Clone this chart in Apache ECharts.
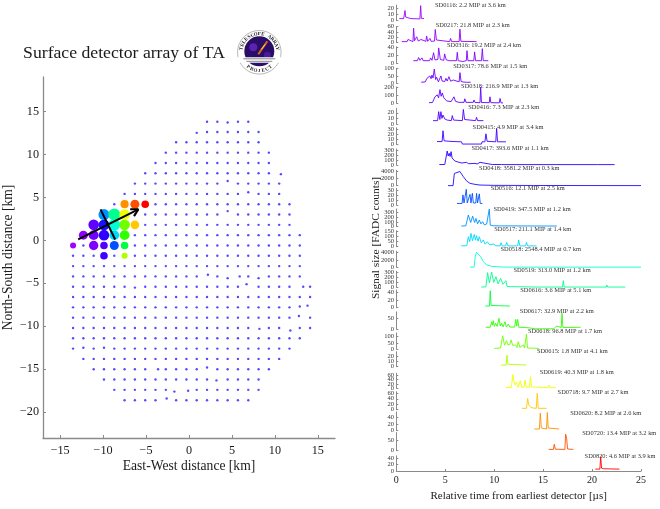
<!DOCTYPE html>
<html><head><meta charset="utf-8">
<style>html,body{margin:0;padding:0;background:#fff}#c{width:660px;height:509px}</style>
<script src="https://cdn.jsdelivr.net/npm/echarts@6/dist/echarts.min.js"></script>
</head><body><div id="c"></div>
<script>
// ---------- DATA ----------
const titleText = 'Surface detector array of TA';
const xTicksKm = [-15,-10,-5,0,5,10,15];
const yTicksKm = [-20,-15,-10,-5,0,5,10,15];
const timeTicks = [0,5,10,15,20,25];

// surface detector positions by row: [north-south km, [east-west km ...]]
const arrayRows = [
 [13.8,[2.1,3.3,5.7,6.9]],
 [12.6,[2.1,3.3,4.5,5.7,6.9,8.1]],
 [11.4,[-1.5,-0.3,0.9,2.1,3.3,4.5,5.7,6.9,8.1]],
 [10.2,[-2.7,-1.5,-0.3,0.9,2.1,3.3,4.5,5.7,6.9,8.1,9.3]],
 [9.0,[-3.9,-2.7,-1.5,-0.3,0.9,2.1,3.3,4.5,5.7,6.9,8.1,9.3]],
 [7.8,[-5.1,-3.9,-2.7,-1.5,-0.3,0.9,2.1,3.3,4.5,5.7,6.9,8.1,9.3]],
 [6.6,[-6.3,-5.1,-3.9,-2.7,-1.5,-0.3,0.9,2.1,3.3,5.7,6.9,8.1,9.3,10.5]],
 [5.4,[-7.5,-6.3,-5.1,-3.9,-2.7,-1.5,-0.3,0.9,2.1,3.3,4.5,5.7,8.1,9.3,10.5]],
 [4.2,[-8.7,-7.5,-6.3,-5.1,-3.9,-2.7,-1.5,-0.3,0.9,2.1,3.3,4.5,5.7,6.9,8.1,9.3,10.5,11.7]],
 [3.0,[-9.9,-8.7,-7.5,-6.3,-5.1,-3.9,-2.7,-1.5,-0.3,0.9,2.1,3.3,5.7,6.9,8.1,9.3,10.5,11.7]],
 [1.8,[-11.1,-9.9,-8.7,-7.5,-6.3,-5.1,-3.9,-2.7,-1.5,-0.3,0.9,2.1,3.3,4.5,5.7,6.9,8.1,9.3,10.5,11.7]],
 [0.6,[-12.3,-11.1,-9.9,-8.7,-7.5,-6.3,-5.1,-3.9,-2.7,-1.5,-0.3,0.9,2.1,3.3,4.5,5.7,6.9,8.1,9.3,10.5,11.7,12.9]],
 [-0.6,[-13.5,-12.3,-11.1,-9.9,-8.7,-7.5,-6.3,-5.1,-3.9,-2.7,-1.5,-0.3,0.9,2.1,3.3,4.5,5.7,6.9,8.1,9.3,10.5,11.7,12.9]],
 [-1.8,[-13.5,-12.3,-11.1,-9.9,-8.7,-7.5,-6.3,-5.1,-3.9,-2.7,-1.5,-0.3,0.9,2.1,3.3,4.5,5.7,6.9,8.1,9.3,10.5,11.7,12.9]],
 [-3.0,[-13.5,-12.3,-11.1,-9.9,-8.7,-7.5,-6.3,-5.1,-3.9,-2.7,-1.5,-0.3,0.9,2.1,3.3,4.5,5.7,6.9,8.1,9.3,10.5,11.7,12.9]],
 [-4.2,[-13.5,-12.3,-11.1,-9.9,-8.7,-7.5,-6.3,-5.1,-3.9,-2.7,-1.5,-0.3,0.9,3.3,6.9,9.3,10.5,11.7,12.9]],
 [-5.4,[-13.5,-12.3,-11.1,-9.9,-8.7,-7.5,-5.1,-3.9,-2.7,-1.5,-0.3,0.9,2.1,3.3,4.5,5.7,8.1,9.3,10.5,11.7,14.1]],
 [-6.6,[-13.5,-12.3,-11.1,-9.9,-8.7,-7.5,-6.3,-5.1,-3.9,-2.7,-1.5,-0.3,0.9,2.1,3.3,4.5,5.7,6.9,8.1,9.3,10.5,11.7,12.9,14.1]],
 [-7.8,[-13.5,-12.3,-11.1,-9.9,-8.7,-7.5,-6.3,-5.1,-3.9,-2.7,-1.5,-0.3,0.9,2.1,3.3,4.5,5.7,6.9,8.1,9.3,10.5,11.7]],
 [-9.0,[-13.5,-12.3,-11.1,-9.9,-8.7,-7.5,-6.3,-5.1,-3.9,-2.7,-1.5,-0.3,0.9,2.1,3.3,4.5,5.7,6.9,8.1,9.3,10.5,11.7,14.1]],
 [-10.2,[-13.5,-12.3,-11.1,-9.9,-8.7,-7.5,-6.3,-5.1,-3.9,-2.7,-1.5,-0.3,0.9,2.1,3.3,4.5,5.7,6.9,9.3,10.5,12.9,14.1]],
 [-11.4,[-13.5,-12.3,-11.1,-9.9,-8.7,-7.5,-6.3,-5.1,-3.9,-2.7,-1.5,-0.3,0.9,2.1,3.3,4.5,5.7,6.9,8.1,9.3,10.5,11.7,12.9]],
 [-12.6,[-13.5,-11.1,-8.7,-7.5,-6.3,-5.1,-3.9,-2.7,-1.5,-0.3,0.9,2.1,3.3,4.5,5.7,6.9,8.1,9.3,10.5,11.7]],
 [-13.8,[-12.3,-11.1,-9.9,-8.7,-7.5,-6.3,-5.1,-3.9,-2.7,-1.5,-0.3,0.9,2.1,3.3,4.5,5.7,6.9,8.1,9.3,10.5]],
 [-15.0,[-11.1,-9.9,-8.7,-7.5,-6.3,-5.1,-2.7,-1.5,-0.3,0.9,3.3,4.5,5.7,6.9,8.1,9.3]],
 [-16.2,[-9.9,-8.7,-7.5,-6.3,-5.1,-3.9,-2.7,-1.5,-0.3,0.9,2.1,4.5,5.7,6.9,8.1]],
 [-17.4,[-8.7,-7.5,-6.3,-5.1,-3.9,-2.7,0.9,2.1,3.3,4.5,5.7,6.9,8.1]],
 [-18.6,[-7.5,-6.3,-5.1,-3.9,-1.5,-0.3,0.9,2.1,3.3,4.5,5.7,6.9]]
];
const offGridDetectors = [[4.5,13.7],[0.9,12.5],[10.7,7.7],[4.5,6.9],[6.9,5.6],[4.5,3.4],[2.2,-4.0],[4.5,-4.4],[5.9,-4.2],[8.1,-4.4],[-6.3,-5.5],[6.7,-5.1],[13.3,-5.4],[12.9,-7.7],[13.8,-7.6],[12.8,-8.8],[8.2,-10.3],[11.8,-10.5],[-12.3,-12.5],[-9.9,-12.5],[-3.6,-15.0],[2.1,-14.8],[3.2,-16.3],[-1.7,-17.6],[-0.1,-17.5],[-2.6,-18.4]];

// shower axis
const showerDirection = [[-12.9,0.1],[-5.9,3.6]];
const arrowHead = [[-6.85,3.6],[-5.9,3.6],[-6.4,2.8]];
const showerFront = [[-10.3,3.6],[-8.6,0.1]];

// hit detectors
const detectorNames = ['SD0116','SD0217','SD0316','SD0317','SD0318','SD0416','SD0415','SD0417','SD0418','SD0516','SD0419','SD0517','SD0518','SD0519','SD0616','SD0617','SD0618','SD0615','SD0619','SD0718','SD0620','SD0720','SD0820'];
const detectorMip = [2.2,21.8,19.2,78.6,216.9,7.3,4.9,393.6,3581.2,12.1,347.5,211.1,2548.4,313.0,3.6,32.9,96.8,1.8,40.3,9.7,8.2,13.4,4.6];
const detectorKm = [3.6,2.3,2.4,1.5,1.3,2.3,3.4,1.1,0.3,2.5,1.2,1.4,0.7,1.2,5.1,2.2,1.7,4.1,1.8,2.7,2.6,3.2,3.9];
const detectorX = [-13.5,-12.3,-11.1,-11.1,-11.1,-9.9,-9.9,-9.9,-9.9,-8.7,-9.9,-8.7,-8.7,-8.7,-7.5,-7.5,-7.5,-7.5,-7.5,-6.3,-7.5,-6.3,-5.1];
const detectorY = [-0.6,0.6,-0.6,0.6,1.8,-0.6,-1.8,0.6,1.8,-0.6,3.0,0.6,1.8,3.0,-0.6,0.6,1.8,-1.8,3.0,1.8,4.2,4.2,4.2];
const detectorTicks = [[0,10,20],[0,20,40,60],[0,20,40],[0,50,100],[0,100,200],[0,10,20],[0,10,20,30],[0,100,200,300],[0,2000,4000],[0,10,20,30],[0,100,200,300],[0,50,100,150],[0,2000,4000],[0,100,200,300],[0,20,40],[0,50],[0,50,100],[0,10,20],[0,20,40,60],[0,20,40,60],[0,20,40],[0,50],[0,20,40]];
const detectorMax = [26,60,42,100,210,28,33,320,4400,33,380,160,4400,330,47,80,130,30,68,66,56,85,48];

// FADC traces: [time us, counts]
const sd0116 = [[0.31,3.5],[0.75,3.5],[0.82,5],[0.89,17],[0.96,6],[1.05,4],[1.5,3.5],[2.41,3],[2.49,25],[2.56,4],[2.83,3.5]];
const sd0217 = [[0.55,4],[1.1,4],[1.19,12],[1.3,5],[1.7,4],[1.77,54],[1.86,7],[2.0,6],[2.08,22],[2.25,6],[2.52,12],[2.65,5],[3.02,5],[3.1,25],[3.2,5],[3.44,16],[3.55,5],[3.9,6],[3.98,49],[4.1,10],[4.3,5],[5.45,4],[5.55,16],[5.65,4],[6.42,4],[6.5,50],[6.6,5],[8.2,4]];
const sd0316 = [[1.74,7],[2.15,7],[2.28,15],[2.42,8],[2.62,14],[2.75,7],[3.4,7],[3.5,14],[3.65,8],[3.81,27],[3.95,9],[4.25,10],[4.33,39],[4.5,10],[4.85,8],[4.94,24],[5.1,9],[5.45,7],[5.55,10],[5.7,7],[6.15,7],[6.23,28],[6.32,7],[6.8,5],[7.15,7],[7.22,32],[7.32,7],[7.92,7],[8.0,29],[8.1,7],[8.7,7],[8.79,37],[8.88,7],[9.4,7]];
const sd0317 = [[2.55,7],[2.95,9],[3.13,33],[3.25,22],[3.44,49],[3.55,30],[3.64,55],[3.75,35],[3.88,95],[4.02,25],[4.12,40],[4.3,10],[4.56,49],[4.68,15],[4.8,27],[4.95,12],[5.07,33],[5.2,15],[5.38,44],[5.55,14],[5.82,22],[6.0,9],[6.42,10],[6.5,71],[6.62,12],[6.9,8],[7.0,15],[7.15,7],[7.6,7]];
const sd0318 = [[3.34,8],[3.7,10],[3.95,83],[4.05,60],[4.19,108],[4.32,70],[4.46,175],[4.58,90],[4.7,133],[4.85,70],[4.97,62],[5.15,30],[5.31,29],[5.6,22],[5.8,30],[5.89,83],[6.05,25],[6.4,12],[6.92,12],[7.0,58],[7.12,12],[7.86,12],[7.94,42],[8.05,10],[8.55,8],[8.62,208],[8.7,10],[9.5,8],[9.57,83],[9.66,8],[10.52,6],[10.6,62],[10.7,6],[10.9,5]];
const sd0416 = [[3.75,6],[4.22,6],[4.33,22],[4.45,8],[4.56,22],[4.66,10],[4.77,16],[4.95,9],[5.2,7],[5.62,6],[5.72,15],[5.85,7],[6.75,6],[6.85,26],[6.98,8],[8.1,6],[8.2,12],[8.3,6],[8.9,6]];
const sd0415 = [[4.16,5.5],[4.68,5.5],[4.77,27],[4.88,7],[5.4,6],[6.0,5.5],[6.66,5],[6.75,0.5],[8.7,0.5],[8.76,5],[9.05,5],[9.16,21],[9.28,6],[10.16,5],[10.25,32],[10.34,5],[11.2,5]];
const sd0417 = [[4.4,10],[4.95,10],[5.2,280],[5.3,180],[5.4,233],[5.5,170],[5.6,267],[5.7,140],[5.82,167],[5.98,80],[6.16,113],[6.3,60],[6.5,100],[6.7,40],[7.18,53],[7.4,25],[8.04,33],[8.25,20],[8.55,53],[8.7,15],[9.8,10],[10.75,10],[10.86,33],[11.0,8],[20.3,8],[20.4,33],[20.55,8],[22.3,8]];
const sd0418 = [[5.28,20],[5.8,30],[5.93,3500],[6.0,4000],[6.5,4050],[6.85,2570],[7.19,1330],[7.53,670],[8.04,380],[8.55,190],[9.9,100],[14,60],[25,30]];
const sd0516 = [[6.2,3],[6.72,3],[6.81,20],[6.92,4],[7.07,4],[7.15,31],[7.25,4],[7.45,4],[7.53,21],[7.63,4],[7.7,4],[7.77,23],[7.87,4],[8.12,4],[8.2,23],[8.3,4],[8.4,4],[8.48,22],[8.58,3],[8.79,3]];
const sd0419 = [[6.64,15],[7.1,18],[7.36,250],[7.6,90],[7.8,228],[8.0,90],[8.14,178],[8.3,60],[8.48,143],[8.65,60],[8.82,107],[9.0,40],[9.23,57],[9.42,35],[9.5,378],[9.6,35],[9.9,20],[10.5,18],[10.6,50],[10.72,18],[15.1,15],[15.2,50],[15.32,15],[16.4,15]];
const sd0517 = [[6.64,8],[7.2,10],[7.36,100],[7.5,50],[7.63,133],[7.78,60],[7.97,123],[8.08,65],[8.2,110],[8.35,55],[8.48,100],[8.68,40],[8.89,67],[9.08,25],[9.3,50],[9.55,18],[9.9,27],[10.2,10],[10.6,8],[10.7,40],[10.82,8],[11.17,8],[11.27,43],[11.4,8],[12.4,8],[12.5,67],[12.62,8],[13.2,8],[13.3,43],[13.42,8],[14.34,8]];
const sd0518 = [[7.53,40],[7.95,60],[8.07,3000],[8.2,4100],[8.4,4150],[8.62,2900],[8.89,1550],[9.23,640],[9.74,270],[10.25,180],[10.6,90],[12,40],[25,40]];
const sd0519 = [[8.69,5],[9.15,8],[9.33,300],[9.52,90],[9.74,313],[9.95,100],[10.18,218],[10.4,70],[10.66,184],[10.9,60],[11.2,136],[11.32,15],[14.5,5],[14.6,34],[14.7,5],[16.98,5],[17.06,136],[17.15,5],[21.45,5],[21.5,48],[21.6,5],[23.4,5]];
const sd0616 = [[9.1,4.4],[9.52,4.4],[9.6,45],[9.68,6],[9.85,4.4],[11.6,4.4]];
const sd0617 = [[9.13,8],[9.6,8],[9.74,34],[9.82,18],[9.9,39],[10.02,12],[10.15,27],[10.3,12],[10.5,50],[10.62,14],[10.76,27],[10.92,10],[11.1,34],[11.25,10],[11.44,23],[11.6,9],[12.1,9],[12.2,45],[12.3,14],[12.4,45],[12.52,8],[13.3,7],[14.2,1],[16.1,1],[16.2,8],[16.38,14],[16.5,7],[16.85,7],[16.93,73],[17.02,7],[18.84,8]];
const sd0618 = [[10.0,5],[10.65,8],[10.87,108],[11.05,30],[11.27,68],[11.38,35],[11.5,51],[11.6,35],[11.72,73],[11.9,30],[12.2,32],[12.32,12],[12.47,60],[12.62,12],[12.98,32],[13.1,8],[13.22,8],[13.3,122],[13.4,8],[14.58,5]];
const sd0615 = [[10.7,3.3],[11.22,3.3],[11.31,23],[11.4,5],[11.6,3.3],[13.25,3.3]];
const sd0619 = [[11.2,3],[11.75,4],[11.92,62],[12.05,25],[12.15,15],[12.28,28],[12.45,5],[12.67,34],[12.8,5],[13.05,5],[13.15,37],[13.28,5],[13.6,5],[13.7,52],[13.82,6],[15.5,3],[15.57,15],[15.68,3],[16.3,3]];
const sd0718 = [[12.84,5],[13.3,5],[13.42,41],[13.52,18],[13.6,20],[13.75,8],[14.05,6],[14.15,10],[14.3,5],[14.4,60],[14.5,5],[15.36,5]];
const sd0620 = [[14.1,5],[14.62,5],[14.71,52],[14.82,8],[15.35,5],[15.43,54],[15.52,8],[15.7,5],[16.65,5]];
const sd0720 = [[15.57,6],[16.05,6],[16.14,30],[16.25,7],[17.22,6],[17.3,77],[17.4,58],[17.5,8],[18.09,6]];
const sd0820 = [[20.33,6],[20.8,6],[20.88,45],[20.97,9],[21.2,7],[22.8,6]];
const detectorTraces = [sd0116,sd0217,sd0316,sd0317,sd0318,sd0416,sd0415,sd0417,sd0418,sd0516,sd0419,sd0517,sd0518,sd0519,sd0616,sd0617,sd0618,sd0615,sd0619,sd0718,sd0620,sd0720,sd0820];

// ---------- STYLE / LAYOUT ----------
const serif = '"Liberation Serif","Times New Roman",serif';
const ink = '#1a1a1a', axisGray = '#8a8a8a', dotBlue = '#2a1cff';
const detectorColors = ['#a000ff','#9000ff','#8000ff','#7000ff','#6000ff','#5000ff','#4000ff','#3000ff','#1a10ff','#0050ff','#0090ff','#00d8ff','#00ffd8','#00ff90','#00ff40','#30ff00','#70ff00','#b0ff00','#f0ff00','#ffc800','#ff9000','#ff5000','#ff0000'];
const markerDiameters = [6,9,9.4,9.8,10.6,7.6,7.6,10.6,10.8,9,11,9.8,11.8,12,7.6,9.8,10.6,6,10.6,8.6,8.2,9,7.6];
const panelBottoms = [20.7,42.7,63.5,83.3,103.3,124,144.3,165,185.7,205,226.7,246.7,267.3,287.3,307.7,329,349,366.7,388.3,409.7,430.7,450.7,471];
const panelTops = [5.1,26.5,46.7,68.3,86.9,108.3,127.8,149,170.3,188.3,209,230.7,251.2,271.2,290,311.9,333,351.7,373.2,391.7,411.9,432.5,455.8];
const labelCx = [470.3,472.7,484,490.3,499.7,503.7,508,510,519.3,527.7,532,532.7,540.7,552,555.7,556.7,565,572.3,576.7,593,605.7,619.3,620];
const labelCy = [5.7,25.3,45.7,66.3,86.7,107.3,127.3,148,168,188.3,209,229.3,249.7,270,290.7,311,331,351.7,372,392.7,413,433,456.3];

const grids=[{left:42,width:293,top:77,height:361}];
const xAxes=[{gridIndex:0,type:'value',min:-17,max:17,name:'East-West distance [km]',nameLocation:'middle',nameGap:21,nameMoveOverlap:false,
  nameTextStyle:{fontFamily:serif,fontSize:13.6,color:ink},
  axisLine:{onZero:false,lineStyle:{color:axisGray,width:1.3}},splitLine:{show:false},
  axisTick:{inside:true,length:3,lineStyle:{color:axisGray},customValues:xTicksKm},
  axisLabel:{fontFamily:serif,fontSize:12.2,color:ink,margin:7,showMinLabel:true,showMaxLabel:true,customValues:xTicksKm,formatter:v=>String(v).replace('-','\u2212')}}];
const yAxes=[{gridIndex:0,type:'value',min:-23,max:19,name:'North-South distance [km]',nameLocation:'middle',nameGap:28,nameMoveOverlap:false,
  nameTextStyle:{fontFamily:serif,fontSize:13.6,color:ink},
  axisLine:{onZero:false,lineStyle:{color:axisGray,width:1.3}},splitLine:{show:false},
  axisTick:{inside:true,length:3,lineStyle:{color:axisGray},customValues:yTicksKm},
  axisLabel:{fontFamily:serif,fontSize:12.2,color:ink,margin:4,showMinLabel:true,showMaxLabel:true,customValues:yTicksKm,formatter:v=>String(v).replace('-','\u2212')}}];

const dots=[];
arrayRows.forEach(([y,xs])=>xs.forEach(x=>dots.push([x,y])));
offGridDetectors.forEach(p=>dots.push(p));

const blackLine={color:'#000',width:2};
const series=[
 {type:'scatter',xAxisIndex:0,yAxisIndex:0,data:dots,symbol:'circle',symbolSize:2.4,itemStyle:{color:dotBlue},silent:true,z:2},
 {type:'scatter',xAxisIndex:0,yAxisIndex:0,silent:true,z:3,symbol:'circle',
  data:detectorNames.map((n,i)=>({value:[detectorX[i],detectorY[i]],symbolSize:markerDiameters[i],itemStyle:{color:detectorColors[i],opacity:1}}))},
 {type:'line',xAxisIndex:0,yAxisIndex:0,data:showerDirection,symbol:'none',lineStyle:blackLine,silent:true,z:5},
 {type:'line',xAxisIndex:0,yAxisIndex:0,data:arrowHead,symbol:'none',lineStyle:blackLine,silent:true,z:5},
 {type:'line',xAxisIndex:0,yAxisIndex:0,data:showerFront,symbol:'none',lineStyle:blackLine,silent:true,z:5}
];

const texts=[];
const X0=396.3,X1=641;
detectorNames.forEach((name,i)=>{
  const last=i===detectorNames.length-1, g=i+1;
  grids.push({left:X0,width:X1-X0,top:panelTops[i],height:panelBottoms[i]-panelTops[i]});
  xAxes.push({gridIndex:g,type:'value',min:0,max:25,show:last,
    name:last?'Relative time from earliest detector [\u00b5s]':'',nameLocation:'middle',nameGap:20,nameMoveOverlap:false,
    nameTextStyle:{fontFamily:serif,fontSize:11,color:ink},
    axisLine:{lineStyle:{color:axisGray,width:1}},splitLine:{show:false},
    axisTick:{inside:true,length:2,lineStyle:{color:axisGray},customValues:timeTicks},
    axisLabel:{fontFamily:serif,fontSize:10,color:ink,margin:4,showMinLabel:true,showMaxLabel:true,customValues:timeTicks}});
  yAxes.push({gridIndex:g,type:'value',min:0,max:detectorMax[i],
    axisLine:{show:true,lineStyle:{color:axisGray,width:1}},splitLine:{show:false},
    axisTick:{show:true,inside:true,length:2,lineStyle:{color:axisGray},customValues:detectorTicks[i]},
    axisLabel:{show:false}});
  series.push({type:'line',xAxisIndex:g,yAxisIndex:g,data:detectorTraces[i],symbol:'none',silent:true,
    clip:false,lineStyle:{color:detectorColors[i],width:0.9},z:4});
  texts.push({type:'text',x:labelCx[i],y:labelCy[i],silent:true,
    style:{text:`${name}: ${detectorMip[i].toFixed(1)} MIP at ${detectorKm[i].toFixed(1)} km`,
      font:`6.4px ${serif}`,fill:'#333',textAlign:'center',textVerticalAlign:'middle'}});
});

// logo
const LX=259.3,LY=52.3;
const logo=[
 {type:'circle',shape:{cx:LX,cy:LY,r:21.8},style:{fill:'#fff',stroke:'#999',lineWidth:0.7},silent:true},
 {type:'circle',shape:{cx:LX,cy:LY-1,r:15},style:{fill:'#2a0d66'},silent:true},
 {type:'circle',shape:{cx:LX-6,cy:LY-5,r:4},style:{fill:'#5a22b0'},silent:true},
 {type:'circle',shape:{cx:LX+8,cy:LY+3,r:3.5},style:{fill:'#4a1a9a'},silent:true},
 {type:'line',shape:{x1:LX-1,y1:LY+2,x2:LX+8,y2:LY-11},style:{stroke:'#e06a20',lineWidth:2},silent:true},
 {type:'line',shape:{x1:LX+2,y1:LY-3,x2:LX+6,y2:LY-8},style:{stroke:'#f8d84a',lineWidth:1},silent:true},
 {type:'rect',shape:{x:LX-22,y:LY+5,width:44,height:5.5},style:{fill:'#fff'},silent:true},
 {type:'line',shape:{x1:LX-16,y1:LY+6.5,x2:LX+16,y2:LY+6.5},style:{stroke:'#666',lineWidth:0.8},silent:true},
 {type:'line',shape:{x1:LX-13,y1:LY+9,x2:LX+13,y2:LY+9},style:{stroke:'#888',lineWidth:1},silent:true}
];
const arcText=(s,startDeg,endDeg,r,flip)=>{
  [...s].forEach((ch,i)=>{
    const a=(startDeg+(endDeg-startDeg)*i/(s.length-1))*Math.PI/180;
    logo.push({type:'text',x:LX+r*Math.sin(a),y:LY-r*Math.cos(a),rotation:flip?-a+Math.PI:-a,silent:true,
      style:{text:ch,font:`bold 5px ${serif}`,fill:'#222',textAlign:'center',textVerticalAlign:'middle'}});
  });
};
arcText('TELESCOPE ARRAY',-78,78,18.4,false);
arcText('PROJECT',217,143,18.4,true);

// right-hand y title
texts.push({type:'text',x:376,y:238,rotation:Math.PI/2,silent:true,
  style:{text:'Signal size [FADC counts]',font:`11.4px ${serif}`,fill:ink,textAlign:'center',textVerticalAlign:'middle'}});
// main title
texts.push({type:'text',x:124,y:53,silent:true,
  style:{text:titleText,font:`17.7px ${serif}`,fill:ink,textAlign:'center',textVerticalAlign:'middle'}});

const chart=echarts.init(document.getElementById('c'),null,{renderer:'canvas',width:660,height:509});
chart.setOption({animation:false,backgroundColor:'#fff',grid:grids,xAxis:xAxes,yAxis:yAxes,series});
// panel tick labels: placed through each panel's own y scale (the library would thin these tightly packed labels)
const tickTexts=[];
detectorTicks.forEach((ticks,i)=>ticks.forEach(v=>{
  tickTexts.push({type:'text',x:394,y:chart.convertToPixel({yAxisIndex:i+1},v),silent:true,
    style:{text:String(v),font:`6.5px ${serif}`,fill:'#333',textAlign:'right',textVerticalAlign:'middle'}});
}));
chart.setOption({graphic:{elements:[...texts,...tickTexts,...logo]}});
</script></body></html>
